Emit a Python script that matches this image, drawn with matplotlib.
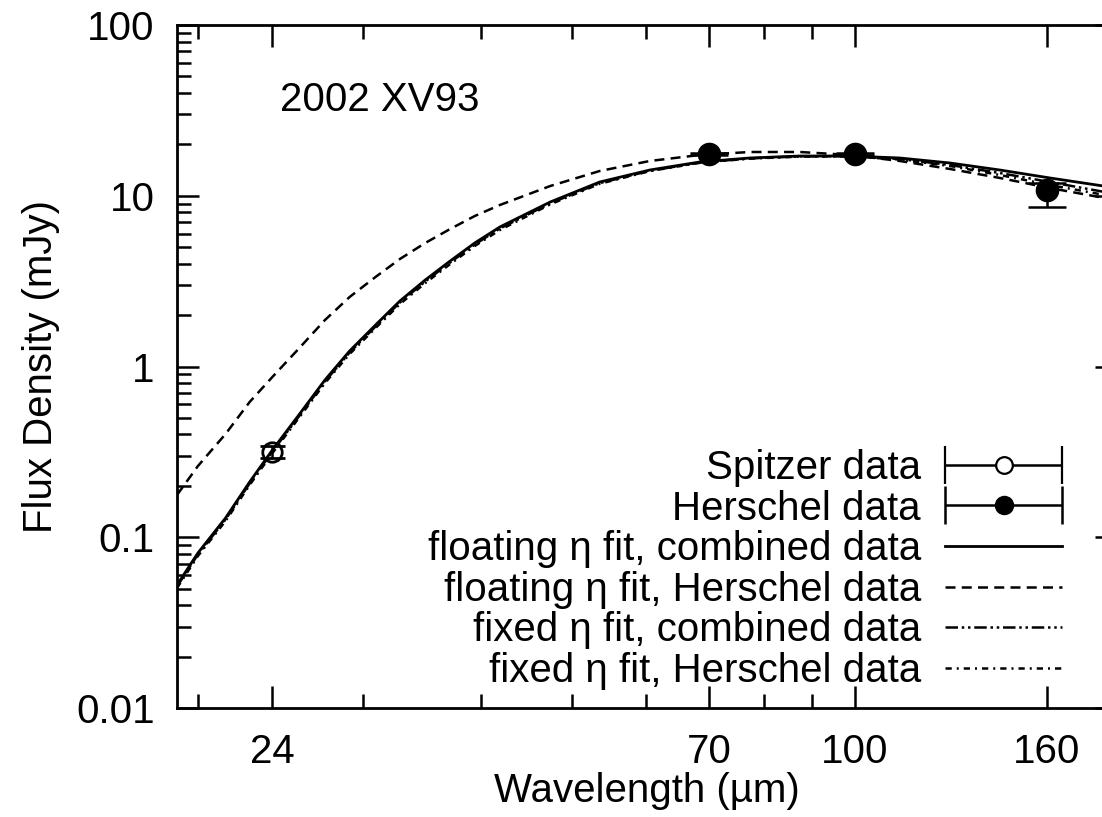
import matplotlib
matplotlib.use("Agg")
import matplotlib.pyplot as plt
from matplotlib.ticker import FixedLocator, FuncFormatter, NullFormatter, LogLocator
from matplotlib.legend_handler import HandlerErrorbar
from matplotlib.offsetbox import VPacker

plt.rcParams['font.family'] = ['Liberation Sans', 'DejaVu Sans']
FS = 29

# measured points
spitzer_wl = [24]
spitzer_flux = [0.316]
spitzer_err = [0.025]

herschel_wl = [70, 100, 160]
herschel_flux = [17.5, 17.6, 10.8]
herschel_err_lo = [0.2, 0.2, 2.2]
herschel_err_hi = [0.2, 0.2, 1.0]

# model curves
model_wl = [19, 20, 21.4, 22.7, 24, 25.7, 27.3, 29, 30.9, 32.8, 34.9, 37.1, 39.4, 41.9,
            47.4, 53.5, 60.5, 68.4, 77.3, 87.4, 98.8, 111.6, 126.2, 142.6, 161.2, 186.8]
float_comb = [0.0525, 0.0809, 0.1297, 0.2107, 0.3243, 0.534, 0.834, 1.233, 1.750, 2.418,
              3.211, 4.149, 5.288, 6.561, 9.19, 12.03, 14.15, 15.77, 16.64, 17.09,
              17.09, 16.64, 15.55, 14.15, 12.71, 11.25]
float_hers = [0.1768, 0.2614, 0.4025, 0.6196, 0.868, 1.301, 1.872, 2.553, 3.344, 4.262,
              5.288, 6.388, 7.608, 8.827, 11.40, 13.96, 15.98, 17.33, 18.04, 18.04,
              17.33, 15.98, 14.35, 12.71, 11.10, 9.57]
fixed_comb = [0.0515, 0.0793, 0.1271, 0.2065, 0.318, 0.523, 0.817, 1.208, 1.715, 2.37,
              3.147, 4.066, 5.18, 6.43, 9.03, 11.85, 14.0, 15.65, 16.55, 17.0,
              17.05, 16.41, 15.14, 13.59, 12.03, 10.38]
fixed_hers = [0.0504, 0.0777, 0.1245, 0.2023, 0.311, 0.513, 0.80, 1.184, 1.68, 2.32,
              3.08, 3.98, 5.08, 6.30, 8.9, 11.75, 13.95, 15.6, 16.5, 16.95,
              17.0, 16.3, 14.94, 13.23, 11.56, 9.97]

xticks = [24, 70, 100, 160]
xminor = [20, 30, 40, 50, 60, 80, 90, 200]

fig = plt.figure(figsize=(11.02, 8.17), dpi=100)
ax = fig.add_axes([177 / 1102, 109 / 817, 940 / 1102, 683 / 817])

ax.plot(model_wl, float_comb, color='k', lw=2.0, zorder=2)
ax.plot(model_wl, float_hers, color='k', lw=1.8, dashes=(4, 2.5), zorder=2)
ax.plot(model_wl, fixed_comb, color='k', lw=1.8, dashes=(5, 1.5, 1, 1.5, 1, 1.5), zorder=2)
ax.plot(model_wl, fixed_hers, color='k', lw=1.8, dashes=(2.5, 2, 0.8, 2), zorder=2)

ax.errorbar(spitzer_wl, spitzer_flux, yerr=spitzer_err, fmt='o', ms=14, mfc='none',
            mec='k', mew=2.0, ecolor='k', elinewidth=1.8, capsize=9, capthick=1.8, zorder=3)
ax.errorbar(herschel_wl, herschel_flux, yerr=[herschel_err_lo, herschel_err_hi], fmt='o',
            ms=16, mfc='k', mec='k', ecolor='k', elinewidth=1.8, capsize=14, capthick=1.8,
            zorder=3)

# legend keys drawn with horizontal bars like the original (placed outside the view)
sp_key = ax.errorbar([1], [1], xerr=[0.1], fmt='o', ms=12, mfc='white', mec='k', mew=1.6,
                     ecolor='k', elinewidth=1.8, capsize=14, capthick=1.8)
he_key = ax.errorbar([1], [1], xerr=[0.1], fmt='o', ms=13, mfc='k', mec='k',
                     ecolor='k', elinewidth=1.8, capsize=14, capthick=1.8)
l1, = ax.plot([], [], color='k', lw=2.0)
l2, = ax.plot([], [], color='k', lw=1.8, dashes=(4, 2.5))
l3, = ax.plot([], [], color='k', lw=1.8, dashes=(5, 1.5, 1, 1.5, 1, 1.5))
l4, = ax.plot([], [], color='k', lw=1.8, dashes=(2.5, 2, 0.8, 2))

handles = [sp_key, he_key, l1, l2, l3, l4]
labels = ['Spitzer data', 'Herschel data',
          'floating \u03b7 fit, combined data', 'floating \u03b7 fit, Herschel data',
          'fixed \u03b7 fit, combined data', 'fixed \u03b7 fit, Herschel data']
leg = ax.legend(handles, labels, loc='lower right', bbox_to_anchor=(1062 / 1102, 1 - 690 / 817),
                bbox_transform=fig.transFigure, frameon=False, fontsize=FS, markerfirst=False,
                handlelength=2.9, handletextpad=0.6, borderpad=0, borderaxespad=0,
                labelspacing=0.065, numpoints=1,
                handler_map={sp_key: HandlerErrorbar(xerr_size=1.45),
                             he_key: HandlerErrorbar(xerr_size=1.45)})
for vp in leg.findobj(VPacker):
    vp.align = 'right'

ax.set_xscale('log')
ax.set_yscale('log')
ax.set_xlim(19, 190)
ax.set_ylim(0.01, 100)

ax.xaxis.set_major_locator(FixedLocator(xticks))
ax.xaxis.set_minor_locator(FixedLocator(xminor))
ax.xaxis.set_major_formatter(FuncFormatter(lambda v, p: f'{v:g}'))
ax.xaxis.set_minor_formatter(NullFormatter())
ax.yaxis.set_major_locator(LogLocator(base=10))
ax.yaxis.set_minor_locator(LogLocator(base=10, subs=range(2, 10)))
ax.yaxis.set_major_formatter(FuncFormatter(lambda v, p: f'{v:g}'))
ax.yaxis.set_minor_formatter(NullFormatter())

ax.tick_params(which='both', direction='in', top=True, right=True, width=1.8, labelsize=FS)
ax.tick_params(which='major', length=16)
ax.tick_params(which='minor', length=10)
ax.tick_params(axis='y', pad=16)
ax.tick_params(axis='x', pad=18)
for s in ax.spines.values():
    s.set_linewidth(2.0)

ax.set_xlabel('Wavelength (\u00b5m)', fontsize=FS)
ax.set_ylabel('Flux Density (mJy)', fontsize=FS)
ax.xaxis.set_label_coords(0.50, -0.094)
ax.yaxis.set_label_coords(-0.124, 0.5)

ax.text(0.1096, 0.890, '2002 XV93', transform=ax.transAxes, fontsize=FS, va='center', ha='left')

fig.savefig('out.png', dpi=100)
